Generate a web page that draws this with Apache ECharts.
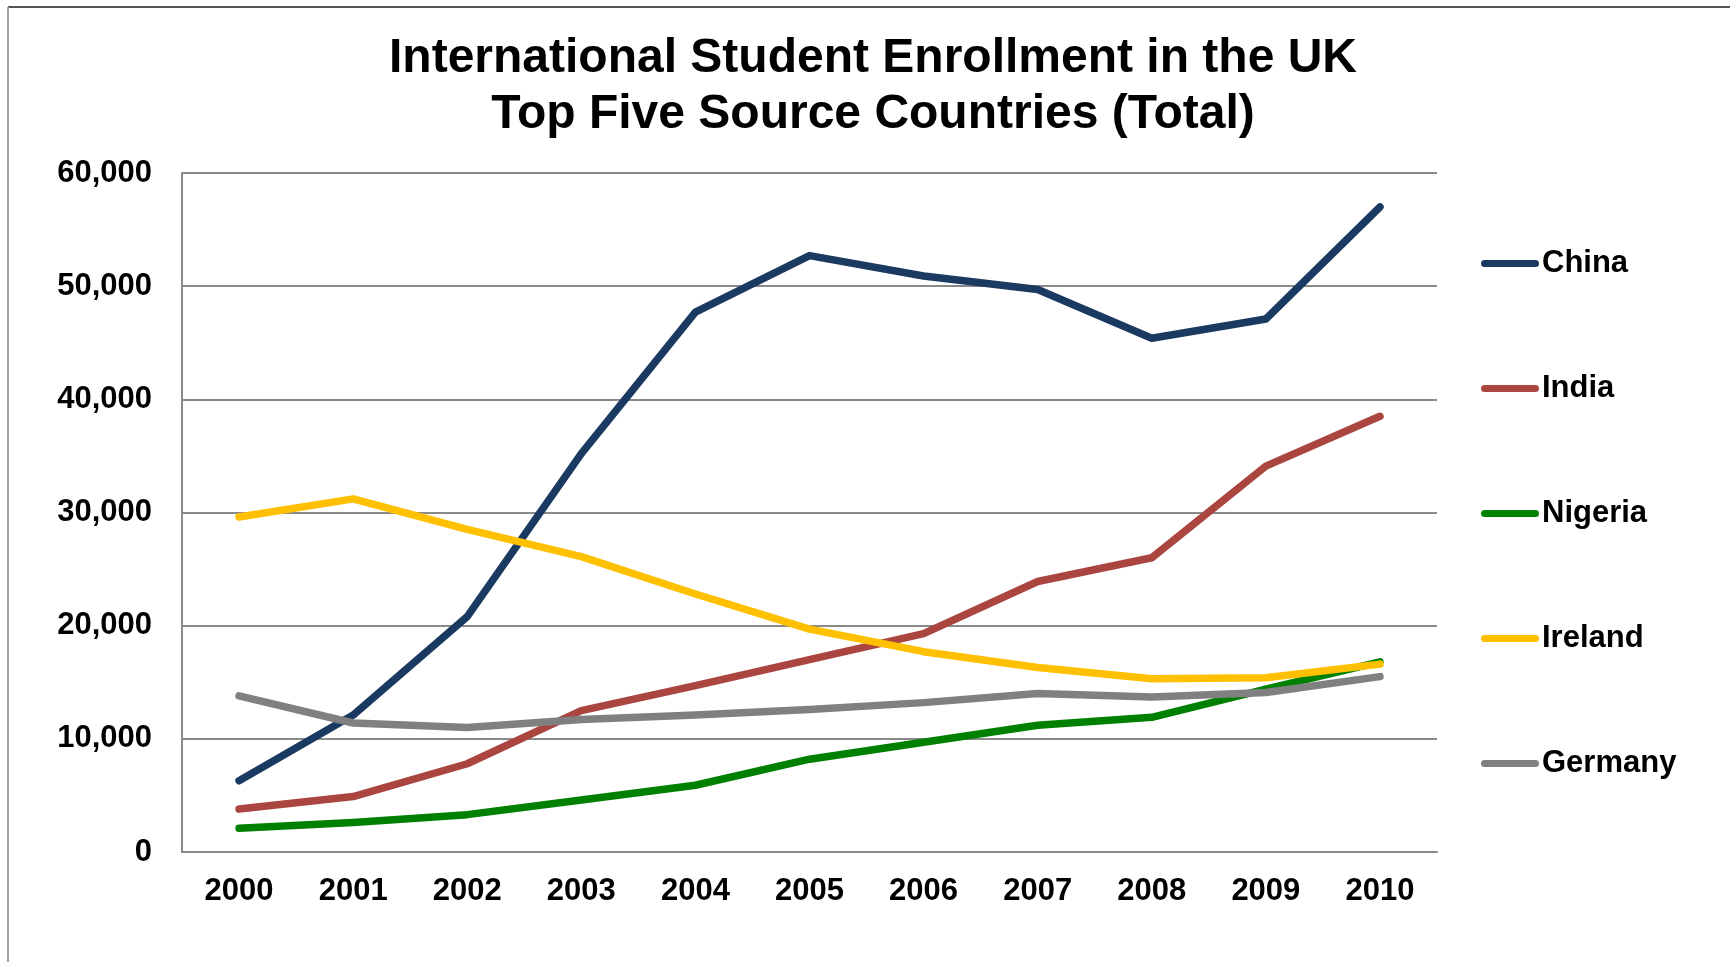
<!DOCTYPE html>
<html>
<head>
<meta charset="utf-8">
<script src="https://cdn.jsdelivr.net/npm/echarts@6/dist/echarts.min.js"></script>
<style>
  html, body { margin: 0; padding: 0; background: #fff; }
  #chart { width: 1730px; height: 962px; }
</style>
</head>
<body>
<div id="chart"></div>
<script>
// data
var years = ['2000', '2001', '2002', '2003', '2004', '2005', '2006', '2007', '2008', '2009', '2010'];
var china = [6300, 12100, 20800, 35200, 47700, 52700, 50900, 49700, 45400, 47100, 57000];
var india = [3800, 4900, 7800, 12500, 14700, 17000, 19300, 23900, 26000, 34100, 38500];
var nigeria = [2100, 2600, 3300, 4600, 5900, 8200, 9700, 11200, 11900, 14400, 16800];
var ireland = [29600, 31200, 28500, 26100, 22800, 19700, 17700, 16300, 15300, 15400, 16600];
var germany = [13800, 11400, 11000, 11700, 12100, 12600, 13200, 14000, 13700, 14100, 15500];

var seriesNames = ['China', 'India', 'Nigeria', 'Ireland', 'Germany'];
var seriesData = [china, india, nigeria, ireland, germany];
var colors = ['#1b3a61', '#aa4540', '#008000', '#ffc000', '#808080'];

var font = '"Liberation Sans", Arial, sans-serif';
var gridColor = '#8a8a8a';

var myChart = echarts.init(document.getElementById('chart'));

var series = seriesNames.map(function (name, i) {
  return {
    name: name,
    type: 'line',
    data: seriesData[i],
    symbol: 'none',
    color: colors[i],
    lineStyle: { width: 7.5, color: colors[i], cap: 'round', join: 'round' },
    animation: false
  };
});

myChart.setOption({
  backgroundColor: '#fff',
  animation: false,
  title: {
    text: 'International Student Enrollment in the UK\nTop Five Source Countries (Total)',
    left: 873,
    top: 31,
    textAlign: 'center',
    padding: 0,
    textStyle: {
      fontFamily: font,
      fontWeight: 'bold',
      fontSize: 48,
      lineHeight: 56,
      color: '#000'
    }
  },
  legend: {
    orient: 'vertical',
    left: 1481,
    top: 248,
    itemWidth: 58,
    itemHeight: 7,
    itemGap: 94,
    icon: 'path://M3.5,0 H54.5 A3.5,3.5 0 0 1 54.5,7 H3.5 A3.5,3.5 0 0 1 3.5,0 Z',
    padding: 0,
    data: seriesNames,
    textStyle: {
      fontFamily: font,
      fontWeight: 'bold',
      fontSize: 31,
      lineHeight: 31,
      color: '#000',
      padding: [0, 0, 0, -2]
    }
  },
  grid: {
    left: 182,
    right: 293,
    top: 173,
    bottom: 110,
    containLabel: false
  },
  xAxis: {
    type: 'category',
    data: years,
    boundaryGap: true,
    axisLine: { show: true, lineStyle: { color: gridColor, width: 2 } },
    axisTick: { show: false },
    axisLabel: {
      margin: 24,
      fontFamily: font,
      fontWeight: 'bold',
      fontSize: 31,
      color: '#000'
    }
  },
  yAxis: {
    type: 'value',
    min: 0,
    max: 60000,
    interval: 10000,
    axisLine: { show: true, lineStyle: { color: gridColor, width: 2 } },
    axisTick: { show: false },
    splitLine: { show: true, lineStyle: { color: gridColor, width: 2 } },
    axisLabel: {
      margin: 30,
      fontFamily: font,
      fontWeight: 'bold',
      fontSize: 31,
      color: '#000',
      padding: [4, 0, 0, 0],
      formatter: function (v) { return v.toLocaleString('en-US'); }
    }
  },
  graphic: [
    {
      type: 'line',
      shape: { x1: 8, y1: 7, x2: 1730, y2: 7 },
      style: { stroke: '#555', lineWidth: 2 },
      silent: true
    },
    {
      type: 'line',
      shape: { x1: 8, y1: 7, x2: 8, y2: 962 },
      style: { stroke: '#a0a0a0', lineWidth: 2 },
      silent: true
    }
  ],
  series: series
});
</script>
</body>
</html>
